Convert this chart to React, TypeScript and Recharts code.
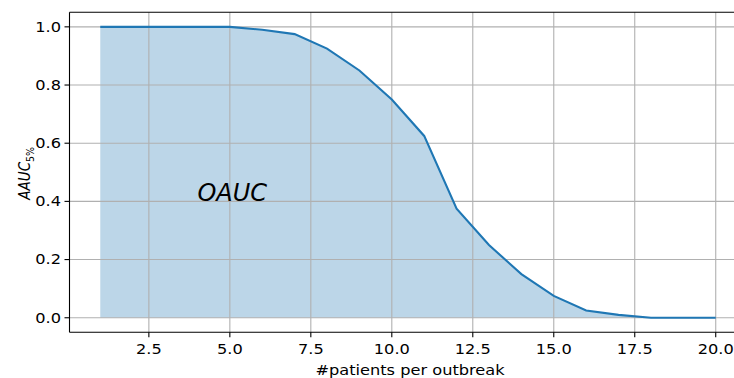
import React from 'react';
import { ComposedChart, Area, Line, XAxis, YAxis, ReferenceLine, ReferenceDot } from 'recharts';

const patients = [1, 2, 3, 4, 5, 6, 7, 8, 9, 10, 11, 12, 13, 14, 15, 16, 17, 18, 19, 20];
const aauc = [1, 1, 1, 1, 1, 0.99, 0.975, 0.925, 0.85, 0.75, 0.625, 0.375, 0.25, 0.15, 0.075, 0.025, 0.01, 0, 0, 0];
const xTicks = [2.5, 5, 7.5, 10, 12.5, 15, 17.5, 20];
const yTicks = [0, 0.2, 0.4, 0.6, 0.8, 1.0];
const xLabel = '#patients per outbreak';
const yLabelMain = 'AAUC';
const yLabelSub = '5%';
const annotation = 'OAUC';
const annotationAt = { x: 4, y: 0.4 };

const data = patients.map((p, i) => ({ p, v: aauc[i] }));

const FONT = 'DejaVu Sans';
const FS = 13.5;
const SX = 1.2;
const BLUE = '#1f77b4';
const GRID = '#b0b0b0';

const XTick = (props: any) => {
  const { x, y, payload } = props;
  return (
    <g transform={`translate(${x},${y}) scale(${SX},1)`}>
      <text x={0} y={0} dy="0.71em" textAnchor="middle" fontFamily={FONT} fontSize={FS} fill="#000">
        {Number(payload.value).toFixed(1)}
      </text>
    </g>
  );
};

const YTick = (props: any) => {
  const { x, y, payload } = props;
  return (
    <g transform={`translate(${x},${y}) scale(${SX},1)`}>
      <text x={0} y={0} dy="0.355em" textAnchor="end" fontFamily={FONT} fontSize={FS} fill="#000">
        {Number(payload.value).toFixed(1)}
      </text>
    </g>
  );
};

const renderXLabel = (props: any) => {
  const vb = props.viewBox || {};
  const cx = vb.x + vb.width / 2 + 2;
  const by = vb.y + 42.7;
  return (
    <g transform={`translate(${cx},${by}) scale(${SX},1)`}>
      <text x={0} y={0} textAnchor="middle" fontFamily={FONT} fontSize={FS} fill="#000">
        {xLabel}
      </text>
    </g>
  );
};

const renderYLabel = (props: any) => {
  const vb = props.viewBox || {};
  const bx = vb.x + 29.5;
  const cy = vb.y + vb.height / 2 + 1;
  return (
    <g transform={`translate(${bx},${cy}) scale(${SX},1) rotate(-90)`}>
      <text x={0} y={0} textAnchor="middle" fontFamily={FONT} fontSize={FS} fill="#000">
        <tspan fontStyle="italic">{yLabelMain}</tspan>
        <tspan fontSize={FS * 0.7} dy={FS * 0.25}>{yLabelSub}</tspan>
      </text>
    </g>
  );
};

const renderAnnotation = (props: any) => {
  const vb = props.viewBox || {};
  const x = vb.x + (vb.width || 0) / 2;
  const y = vb.y + (vb.height || 0) / 2;
  return (
    <text x={x} y={y} textAnchor="start" fontFamily={FONT} fontStyle="italic" fontSize={24} fill="#000">
      {annotation}
    </text>
  );
};

export default function App() {
  return (
    <div style={{ position: 'absolute', left: 0, top: 0, width: 734, height: 378, overflow: 'hidden', background: '#fff' }}>
      <ComposedChart
        width={750}
        height={378}
        data={data}
        margin={{ top: 12.3, right: 3.5, left: 0, bottom: 0 }}
      >
        <XAxis
          dataKey="p"
          type="number"
          domain={[0.05, 20.95]}
          ticks={xTicks}
          allowDataOverflow
          height={45.7}
          tickSize={5}
          tickMargin={7}
          tick={<XTick />}
          tickLine={{ stroke: '#000', strokeWidth: 1.1 }}
          axisLine={{ stroke: '#000', strokeWidth: 1.1 }}
          label={renderXLabel}
        />
        <YAxis
          type="number"
          domain={[-0.05, 1.05]}
          ticks={yTicks}
          allowDataOverflow
          width={69.5}
          tickSize={5}
          tickMargin={3.5}
          tick={<YTick />}
          tickLine={{ stroke: '#000', strokeWidth: 1.1 }}
          axisLine={{ stroke: '#000', strokeWidth: 1.1 }}
          label={renderYLabel}
        />
        <Area
          dataKey="v"
          type="linear"
          baseValue={0}
          stroke="none"
          fill="#bcd6e8"
          fillOpacity={1}
          isAnimationActive={false}
          activeDot={false}
          dot={false}
        />
        {xTicks.map((t) => (
          <ReferenceLine key={'gx' + t} x={t} stroke={GRID} strokeWidth={1.1} ifOverflow="visible" />
        ))}
        {yTicks.map((t) => (
          <ReferenceLine key={'gy' + t} y={t} stroke={GRID} strokeWidth={1.1} ifOverflow="visible" />
        ))}
        <ReferenceLine y={1.05} stroke="#000" strokeWidth={1.1} ifOverflow="visible" />
        <Line
          dataKey="v"
          type="linear"
          stroke={BLUE}
          strokeWidth={2.1}
          dot={false}
          activeDot={false}
          isAnimationActive={false}
        />
        <ReferenceDot x={annotationAt.x} y={annotationAt.y} r={0} fill="none" stroke="none" ifOverflow="visible" label={renderAnnotation} />
      </ComposedChart>
    </div>
  );
}
